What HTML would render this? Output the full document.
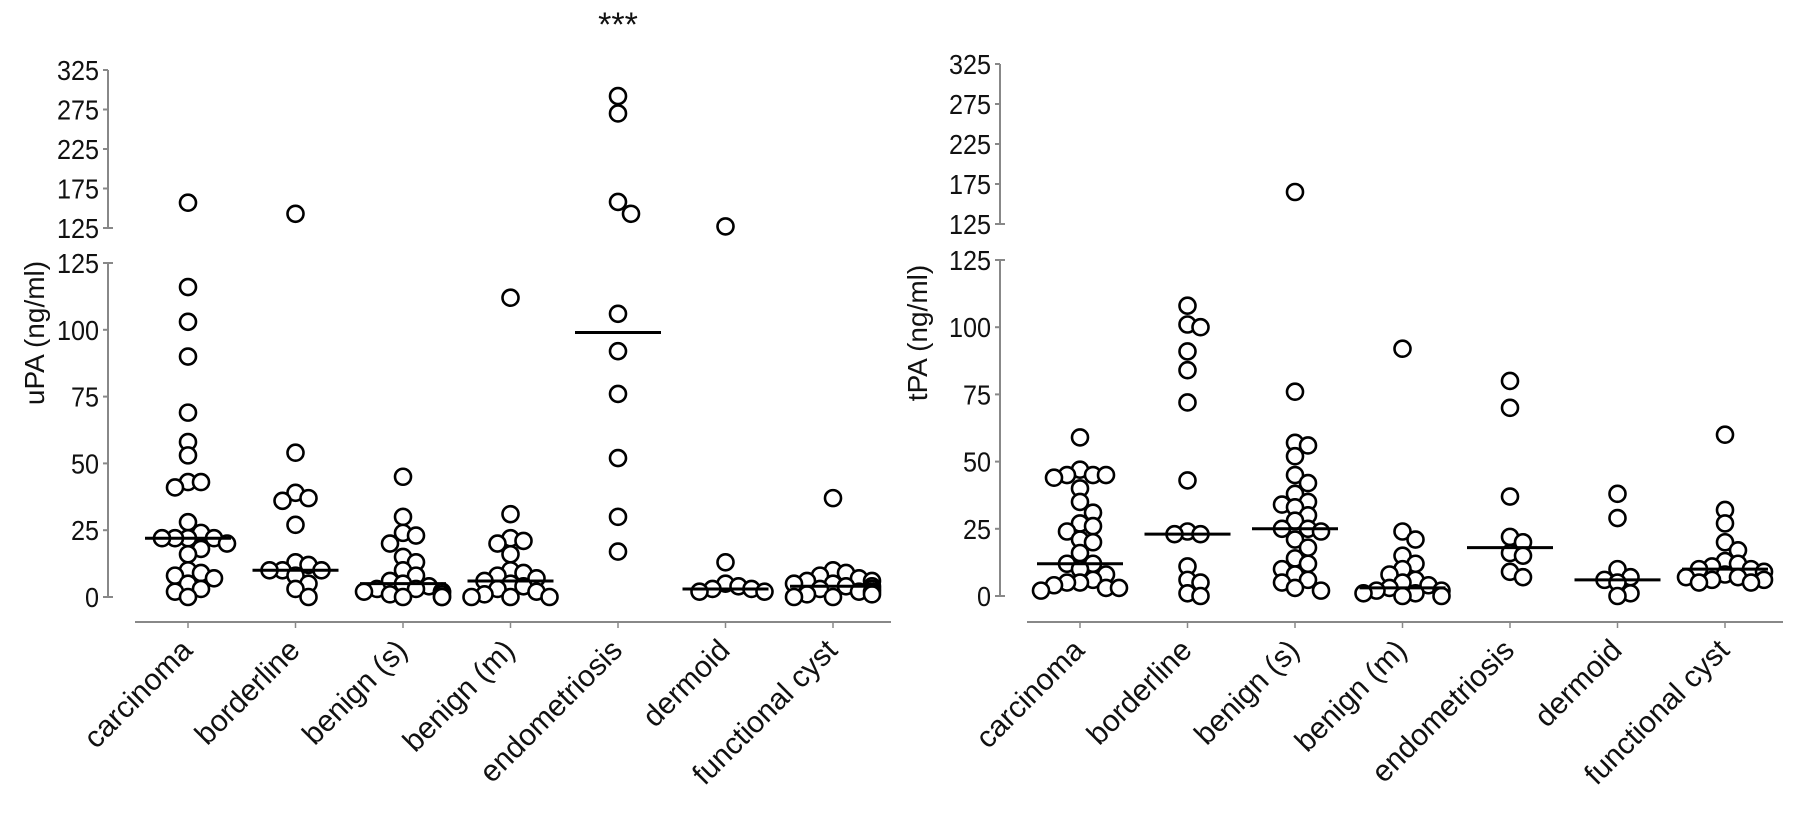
<!DOCTYPE html>
<html><head><meta charset="utf-8"><style>
body{margin:0;background:#fff}
svg text{font-family:"Liberation Sans",Arial,sans-serif;fill:#111}
</style></head><body>
<svg id="chart" width="1795" height="811" viewBox="0 0 1795 811" xmlns="http://www.w3.org/2000/svg"></svg>
<script>
const categories = ["carcinoma","borderline","benign (s)","benign (m)","endometriosis","dermoid","functional cyst"];
const upperTicks = [325,275,225,175,125];
const lowerTicks = [125,100,75,50,25,0];
const uPA_carcinoma = [157,116,103,90,69,58,53,43,43,41,28,24,22,22,22,22,20,18,16,10,9,8,7,5,3,2,0];
const uPA_borderline = [143,54,39,37,36,27,13,12,10,10,10,8,5,3,0];
const uPA_benignS = [45,30,24,23,20,15,13,10,8,6,5,4,3,2,2,1,1,0,0,0,2,3];
const uPA_benignM = [112,31,22,21,20,16,10,9,8,7,6,5,4,3,2,1,0,0,0];
const uPA_endo = [292,270,158,143,106,92,76,52,30,17];
const uPA_dermoid = [127,13,5,4,3,3,2,2];
const uPA_functional = [37,10,9,8,7,6,6,5,5,4,4,3,3,2,2,1,1,0,0];
const uPA_medians = [22,10,5,6,99,3,4];
const tPA_carcinoma = [59,45,45,47,45,44,40,35,31,27,26,24,21,20,16,12,12,10,8,6,5,4,3,2,5,3];
const tPA_borderline = [108,101,100,91,84,72,43,24,23,23,11,6,5,1,0];
const tPA_benignS = [165,76,57,56,52,45,42,38,35,34,33,30,28,25,25,24,21,18,14,12,10,8,5,3,2,6];
const tPA_benignM = [92,24,21,15,12,10,8,6,5,4,3,2,1,0,0,1,2];
const tPA_endo = [80,70,37,22,20,16,15,9,7];
const tPA_dermoid = [38,29,10,7,6,5,1,0];
const tPA_functional = [60,32,27,20,17,13,11,10,9,8,7,7,6,6,5,5,10,12];
const tPA_medians = [12,23,25,3,18,6,10];

const NS="http://www.w3.org/2000/svg";
const svg=document.getElementById('chart');
function mk(tag,attrs,parent){const e=document.createElementNS(NS,tag);for(const k in attrs)e.setAttribute(k,attrs[k]);(parent||svg).appendChild(e);return e;}

function drawPanel(cfg){
  const g=mk('g',{});
  
  
  const ax=cfg.axisX;
  const y=v=> v>125 ? cfg.upTop+ (325-v)*(cfg.upBot-cfg.upTop)/200 : cfg.loBot-(v)*(cfg.loBot-cfg.loTop)/125;
  const xCat=i=>ax+80+i*107.5;
  const axc='#888';
  const ua=mk('line',{x1:ax,x2:ax,y1:cfg.upTop,y2:cfg.upBot,stroke:axc,'stroke-width':2},g);
  
  
  const la=mk('line',{x1:ax,x2:ax,y1:cfg.loTop,y2:cfg.loBot,stroke:axc,'stroke-width':2},g);
  
  
  upperTicks.forEach(t=>{
    const yy=cfg.upTop+(325-t)*(cfg.upBot-cfg.upTop)/200;
    mk('line',{x1:ax-5,x2:ax+(t===125?5:0),y1:yy,y2:yy,stroke:axc,'stroke-width':2},g);
    const tx=mk('text',{x:ax-9,y:yy+10,'text-anchor':'end','font-size':28,transform:`translate(${ax-9},0) scale(0.9,1) translate(${-(ax-9)},0)`},g);
    tx.textContent=t;
    
    
  });
  lowerTicks.forEach(t=>{
    const yy=y(t);
    mk('line',{x1:ax-5,x2:ax+(t===125||t===0?5:0),y1:yy,y2:yy,stroke:axc,'stroke-width':2},g);
    const tx=mk('text',{x:ax-9,y:yy+10,'text-anchor':'end','font-size':28,transform:`translate(${ax-9},0) scale(0.9,1) translate(${-(ax-9)},0)`},g);
    tx.textContent=t;
    
    
  });
  const xa=mk('line',{x1:ax+27,x2:ax+783,y1:622,y2:622,stroke:axc,'stroke-width':2},g);
  
  
  const title=mk('text',{x:0,y:0,'text-anchor':'middle','font-size':28,transform:`translate(${cfg.titleX},333) rotate(-90)`},g);
  title.textContent=cfg.title;
  
  
  categories.forEach((c,i)=>{
    const cx=xCat(i);
    mk('line',{x1:cx,x2:cx,y1:622,y2:628,stroke:axc,'stroke-width':1.5},g);
    const tx=mk('text',{x:0,y:0,'text-anchor':'end','font-size':30,transform:`translate(${cx+6},652) rotate(-45)`},g);
    tx.textContent=c;
    
    
  });
  cfg.series.forEach((vals,i)=>{
    const cx=xCat(i);
    const sorted=vals.slice().sort((a,b)=>b-a);
    const placed=[];
    sorted.forEach(v=>{
      const yy=y(v);
      let off=0;
      for(let k=0;k<30;k++){
        const cand=k===0?0:(k%2?1:-1)*Math.ceil(k/2)*13;
        if(Math.abs(cand)>44){off=(k%2?1:-1)*39;break;}
        if(placed.every(p=>Math.hypot(p[0]-(cx+cand),p[1]-yy)>=12.5)){off=cand;break;}
      }
      placed.push([cx+off,yy]);
      const c=mk('circle',{cx:cx+off,cy:yy,r:8,fill:'#fff',stroke:'#000','stroke-width':2.6},g);
      
      
    });
    const my=y(cfg.medians[i]);
    const m=mk('line',{x1:cx-43,x2:cx+43,y1:my,y2:my,stroke:'#000','stroke-width':3},g);
    
    
  });
}
drawPanel({name:'upa',axisX:108,upTop:70,upBot:228,loTop:263,loBot:597,titleX:44,title:'uPA (ng/ml)',
  series:[uPA_carcinoma,uPA_borderline,uPA_benignS,uPA_benignM,uPA_endo,uPA_dermoid,uPA_functional],medians:uPA_medians});
drawPanel({name:'tpa',axisX:1000,upTop:64,upBot:224,loTop:260,loBot:596,titleX:927,title:'tPA (ng/ml)',
  series:[tPA_carcinoma,tPA_borderline,tPA_benignS,tPA_benignM,tPA_endo,tPA_dermoid,tPA_functional],medians:tPA_medians});
const sig=mk('text',{x:618,y:36,'text-anchor':'middle','font-size':34});
sig.textContent='***';


</script>
</body></html>
